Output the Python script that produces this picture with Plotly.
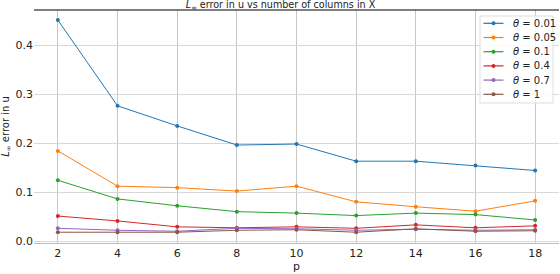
import plotly.graph_objects as go

p_vals = [2, 4, 6, 8, 10, 12, 14, 16, 18]
theta_labels = ["0.01", "0.05", "0.1", "0.4", "0.7", "1"]
err_001 = [0.451, 0.276, 0.235, 0.196, 0.198, 0.163, 0.163, 0.154, 0.144]
err_005 = [0.184, 0.112, 0.109, 0.102, 0.112, 0.080, 0.070, 0.061, 0.082]
err_01 = [0.124, 0.086, 0.072, 0.060, 0.057, 0.052, 0.057, 0.054, 0.043]
err_04 = [0.051, 0.041, 0.029, 0.027, 0.029, 0.026, 0.033, 0.027, 0.031]
err_07 = [0.026, 0.022, 0.020, 0.026, 0.025, 0.022, 0.024, 0.022, 0.023]
err_1 = [0.018, 0.018, 0.018, 0.022, 0.023, 0.018, 0.025, 0.020, 0.021]
series = [err_001, err_005, err_01, err_04, err_07, err_1]
colors = ["#1f77b4", "#ff7f0e", "#2ca02c", "#d62728", "#9467bd", "#8c564b"]

W, H = 560, 274
ML, MR, MT, MB = 34, 1, 10, 31
PW, PH = W - ML - MR, H - MT - MB

def px(x):
    return (x - ML) / PW

def py(y):
    return (H - MB - y) / PH

fig = go.Figure()
for lab, ys, c in zip(theta_labels, series, colors):
    fig.add_trace(go.Scatter(
        x=p_vals, y=ys, mode="lines+markers", name=f"θ = {lab}", showlegend=False,
        line=dict(color=c, width=1), marker=dict(color=c, size=4, symbol="circle"),
    ))

font = "DejaVu Sans, sans-serif"
fig.update_layout(
    width=W, height=H,
    margin=dict(l=ML, r=MR, t=MT, b=MB, autoexpand=False),
    plot_bgcolor="white", paper_bgcolor="white",
    font=dict(family=font, size=11, color="#222"),
    title=dict(text="<i>L</i><sub>∞</sub> error in u vs number of columns in X",
               x=px(297), xanchor="center", yref="container", y=1 - 4.5 / H,
               yanchor="middle", pad=dict(t=0, b=0),
               font=dict(size=9.6, color="#222")),
    xaxis=dict(range=[1.2, 18.8], tickvals=p_vals, showgrid=True, gridcolor="#c8c8c8",
               gridwidth=1, zeroline=False, showline=True, linecolor="#bbbbbb",
               ticks="", automargin=False,
               title=dict(text="p", standoff=2, font=dict(size=11))),
    yaxis=dict(range=[-0.004, 0.4716], tickvals=[0.0, 0.1, 0.2, 0.3, 0.4],
               ticktext=["0.0", "0.1", "0.2", "0.3", "0.4"],
               showgrid=True, gridcolor="#d8d8d8", zeroline=False, showline=False,
               ticks="", automargin=False,
               title=dict(text="<i>L</i><sub>∞</sub> error in u", standoff=4, font=dict(size=10))),
    showlegend=False,
)
fig.add_shape(type="line", xref="paper", yref="paper", x0=0, x1=1, y0=1, y1=1,
              line=dict(color="black", width=1.2))

# manual legend (matplotlib-style compact box)
fig.add_shape(type="rect", xref="paper", yref="paper",
              x0=px(480), x1=px(553), y0=py(103), y1=py(16),
              line=dict(color="#dddddd", width=1), fillcolor="rgba(255,255,255,0.85)")
for i, (lab, c) in enumerate(zip(theta_labels, colors)):
    yy = 23.3 + i * 14.2
    fig.add_shape(type="line", xref="paper", yref="paper",
                  x0=px(483.5), x1=px(503.5), y0=py(yy), y1=py(yy),
                  line=dict(color=c, width=1.2))
    fig.add_shape(type="circle", xref="paper", yref="paper",
                  x0=px(491.5), x1=px(495.5), y0=py(yy + 2), y1=py(yy - 2),
                  line=dict(color=c, width=0), fillcolor=c)
    fig.add_annotation(xref="paper", yref="paper", x=px(511), y=py(yy),
                       xanchor="left", yanchor="middle", showarrow=False,
                       text=f"<i>θ</i> = {lab}", font=dict(size=10, color="#222"))
fig.write_html("out.html", config={"displayModeBar": False},
               post_script="document.body.style.margin='0';")
